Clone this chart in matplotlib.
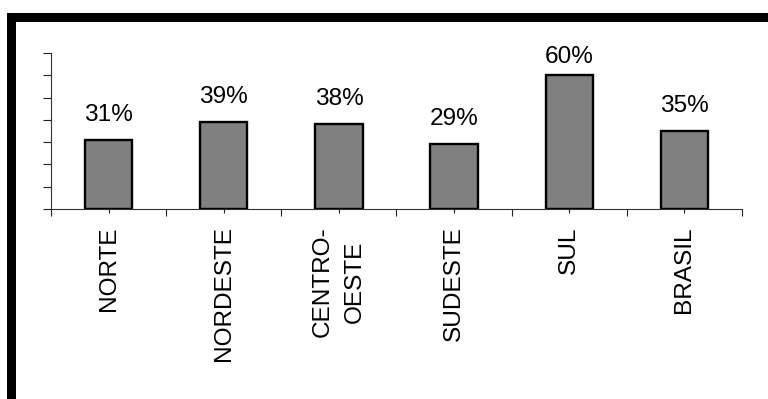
import matplotlib
matplotlib.use("Agg")
import matplotlib.pyplot as plt
from matplotlib.patches import Rectangle
import numpy as np

categories = ["NORTE", "NORDESTE", "CENTRO-\nOESTE", "SUDESTE", "SUL", "BRASIL"]
values = [0.31, 0.39, 0.38, 0.29, 0.60, 0.35]
value_labels = ["31%", "39%", "38%", "29%", "60%", "35%"]
yticks = [0.0, 0.1, 0.2, 0.3, 0.4, 0.5, 0.6, 0.7]

plt.rcParams['font.family'] = ['Liberation Sans', 'DejaVu Sans']
W, H = 768, 399
fig = plt.figure(figsize=(W / 100, H / 100), dpi=100)
ax = fig.add_axes([51 / W, 1 - 209 / H, (742 - 51) / W, (209 - 53) / H])

x = np.arange(len(categories))
ax.bar(x, values, width=0.41, color="#808080", edgecolor="black", linewidth=1.7, zorder=3)

for xi, v, lab in zip(x, values, value_labels):
    ax.text(xi, min(v + 0.063, 0.633), lab, ha="center", va="bottom", fontsize=17.6,
            clip_on=False)

ax.set_xlim(-0.5, len(categories) - 0.5)
ax.set_ylim(0, 0.7)
ax.set_yticks(yticks)
ax.set_yticklabels([])
ax.set_xticks(np.arange(len(categories) + 1) - 0.5)
ax.set_xticklabels([])
ax.set_xticks(x, minor=True)
ax.set_xticklabels(categories, minor=True, rotation=90, fontsize=17.6,
                   va="top", ha="center", multialignment="center", linespacing=1.55)
ax.tick_params(axis="x", which="major", length=5.2, width=0.8, color="#222222")
ax.tick_params(axis="x", which="minor", length=3, width=0.8, color="#222222", pad=9.5)
ax.tick_params(axis="y", which="major", length=5.8, width=0.8, color="#222222")
for s in ["top", "right"]:
    ax.spines[s].set_visible(False)
for s in ["left", "bottom"]:
    ax.spines[s].set_linewidth(0.8)
    ax.spines[s].set_color("#333333")

# black frame (left and top edges visible)
fig.add_artist(Rectangle((7 / W, 0), 9 / W, 1 - 13 / H, transform=fig.transFigure,
                         facecolor="black", edgecolor="none"))
fig.add_artist(Rectangle((7 / W, 1 - 22 / H), 1 - 7 / W, 9 / H, transform=fig.transFigure,
                         facecolor="black", edgecolor="none"))

fig.savefig("out.png", dpi=100)
